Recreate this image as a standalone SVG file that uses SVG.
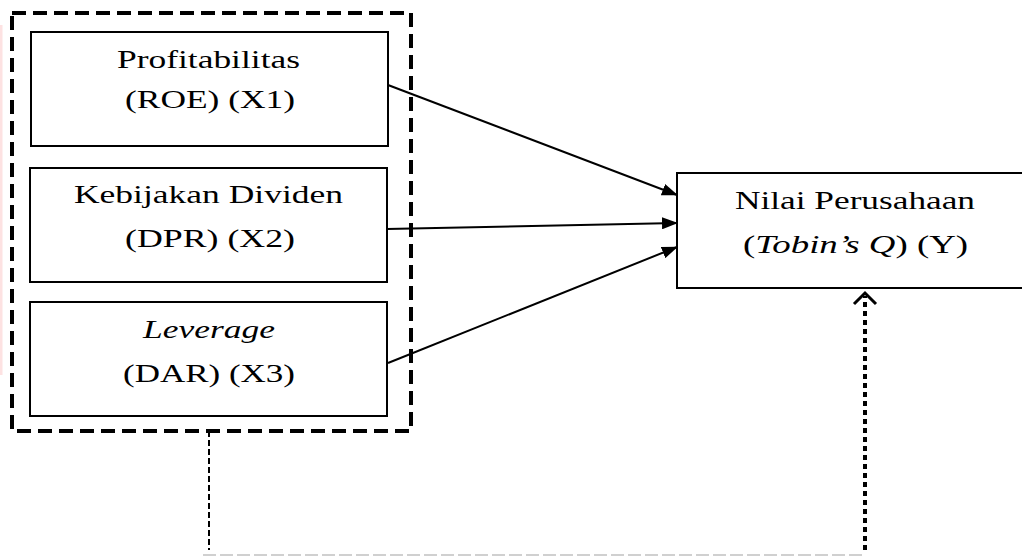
<svg xmlns="http://www.w3.org/2000/svg" width="1022" height="558" viewBox="0 0 1022 558">
<defs>
<style>
.box{fill:#fff;stroke:#000;stroke-width:2}
.t{font-family:"Liberation Serif","Times New Roman",serif;font-size:25px;fill:#000}
.i{font-style:italic}
.arr{stroke:#000;stroke-width:2;fill:none;marker-end:url(#ah)}
</style>
<marker id="ah" markerWidth="16" markerHeight="12" refX="15" refY="6" orient="auto" markerUnits="userSpaceOnUse">
<path d="M0,0 L16,6 L0,12 Z" fill="#000"/>
</marker>
</defs>
<rect width="1022" height="558" fill="#fff"/>
<rect x="0" y="25" width="2.5" height="350" fill="#fde2e2"/>
<g id="group-x">
<rect x="12" y="13" width="399" height="418" fill="none" stroke="#000" stroke-width="4" stroke-dasharray="14 7"/>
</g>
<g id="node-x1">
<rect class="box" x="31" y="32" width="357" height="114"/>
<text class="t" x="117" y="68" textLength="183" lengthAdjust="spacingAndGlyphs">Profitabilitas</text>
<text class="t" x="125" y="108" textLength="170" lengthAdjust="spacingAndGlyphs">(ROE) (X1)</text>
</g>
<g id="node-x2">
<rect class="box" x="30" y="168" width="357" height="114"/>
<text class="t" x="74" y="203" textLength="269" lengthAdjust="spacingAndGlyphs">Kebijakan Dividen</text>
<text class="t" x="125" y="247" textLength="170" lengthAdjust="spacingAndGlyphs">(DPR) (X2)</text>
</g>
<g id="node-x3">
<rect class="box" x="30" y="302" width="357" height="114"/>
<text class="t i" x="143" y="338" textLength="132" lengthAdjust="spacingAndGlyphs">Leverage</text>
<text class="t" x="123" y="382" textLength="172" lengthAdjust="spacingAndGlyphs">(DAR) (X3)</text>
</g>
<g id="node-y">
<rect class="box" x="677" y="173" width="350" height="115"/>
<text class="t" x="735" y="209" textLength="240" lengthAdjust="spacingAndGlyphs">Nilai Perusahaan</text>
<text class="t" x="743" y="253" textLength="225" lengthAdjust="spacingAndGlyphs">(<tspan class="i">Tobin’s Q</tspan>) (Y)</text>
</g>
<g id="connectors">
<line class="arr" x1="388" y1="85" x2="677" y2="195"/>
<line class="arr" x1="387" y1="229" x2="677" y2="223"/>
<line class="arr" x1="388" y1="363" x2="677" y2="247" stroke-width="2.5"/>
<line x1="209" y1="431" x2="209" y2="550" stroke="#000" stroke-width="2" stroke-dasharray="6 3"/>
<line x1="203" y1="555" x2="866" y2="555" stroke="#d0d0d0" stroke-width="2" stroke-dasharray="13 4"/>
<line x1="865" y1="550" x2="865" y2="296" stroke="#000" stroke-width="4" stroke-dasharray="5 4"/>
<polyline points="854,304 865,293 876,304" fill="none" stroke="#000" stroke-width="3"/>
</g>
</svg>
